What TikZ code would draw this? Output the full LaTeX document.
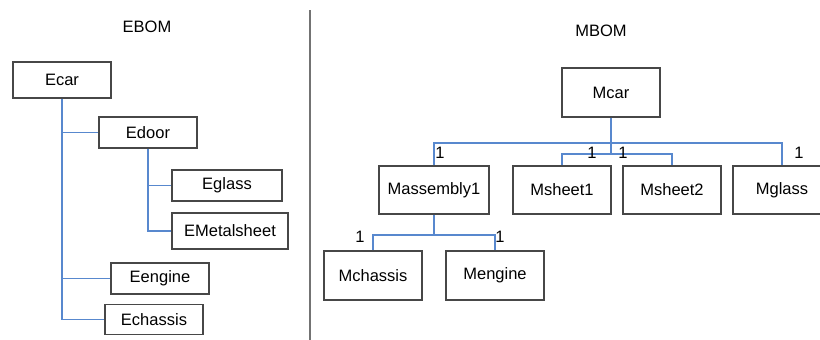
\documentclass[tikz,border=0pt]{standalone}
\usepackage{fontspec}
\setmainfont{Liberation Sans}
\definecolor{connblue}{RGB}{88,136,206}
\begin{document}
\begin{tikzpicture}[x=1pt,y=-1pt,
  bx/.style={draw=black!72, line width=1.3pt, fill=white, inner sep=0pt, font=\fontsize{16.5}{19}\selectfont},
  conn/.style={draw=connblue, line width=1.3pt},
  lbl/.style={inner sep=0pt, font=\fontsize{16.5}{19}\selectfont},
  ttl/.style={inner sep=0pt, font=\fontsize{16.5}{19}\selectfont}]
\clip (0,0) rectangle (820,340);
\fill[white] (0,0) rectangle (820,340);
% divider
\coordinate (dtop) at (310,10);
\coordinate (dbot) at (310,340);
\draw[black!55, line width=1.4pt] (dtop) -- (dbot);
% titles
\node[ttl] (ebom) at (147,27) {EBOM};
\node[ttl] (mbom) at (601,31) {MBOM};
% EBOM boxes
\node[bx, minimum width=98pt, minimum height=36pt] (ecar) at (62,80) {Ecar};
\node[bx, minimum width=98pt, minimum height=31pt] (edoor) at (148,132.5) {Edoor};
\node[bx, minimum width=110pt, minimum height=31pt] (eglass) at (227,185.5) {Eglass};
\node[bx, minimum width=116pt, minimum height=36pt] (emetal) at (230,231) {EMetalsheet};
\node[bx, minimum width=98pt, minimum height=31pt] (eengine) at (160,278.5) {Eengine};
\node[bx, minimum width=98pt, minimum height=30pt] (echassis) at (154,319.5) {Echassis};
% EBOM connectors
\draw[conn] (ecar.south) |- (echassis.west);
\draw[conn] (ecar.south |- edoor.west) -- (edoor.west);
\draw[conn] (ecar.south |- eengine.west) -- (eengine.west);
\draw[conn] (edoor.south) |- (emetal.west);
\draw[conn] (edoor.south |- eglass.west) -- (eglass.west);
% MBOM boxes
\node[bx, minimum width=98pt, minimum height=49pt] (mcar) at (611,92.5) {Mcar};
\node[bx, minimum width=110pt, minimum height=48pt] (massembly) at (434,190) {Massembly1};
\node[bx, minimum width=98pt, minimum height=48pt] (msheet1) at (562,190) {Msheet1};
\node[bx, minimum width=98pt, minimum height=48pt] (msheet2) at (672,190) {Msheet2};
\node[bx, minimum width=98pt, minimum height=48pt] (mglass) at (782,190) {Mglass};
\node[bx, minimum width=98pt, minimum height=49pt] (mchassis) at (373,275.5) {Mchassis};
\node[bx, minimum width=98pt, minimum height=49pt] (mengine) at (495,275.5) {Mengine};
% MBOM connectors
\coordinate (hb) at (611,143);
\coordinate (lb) at (611,154);
\coordinate (ab) at (434,235);
\draw[conn] (mcar.south) -- (lb);
\draw[conn] (massembly.north) |- (hb) -| (mglass.north);
\draw[conn] (msheet1.north) |- (lb) -| (msheet2.north);
\draw[conn] (massembly.south) -- (ab);
\draw[conn] (mchassis.north) |- (ab) -| (mengine.north);
% multiplicity labels
\node[lbl] (l1) at (440,153) {1};
\node[lbl] (l2) at (592,153) {1};
\node[lbl] (l3) at (623,153) {1};
\node[lbl] (l4) at (799,153) {1};
\node[lbl] (l5) at (360,237) {1};
\node[lbl] (l6) at (500,237) {1};
\end{tikzpicture}
\end{document}
